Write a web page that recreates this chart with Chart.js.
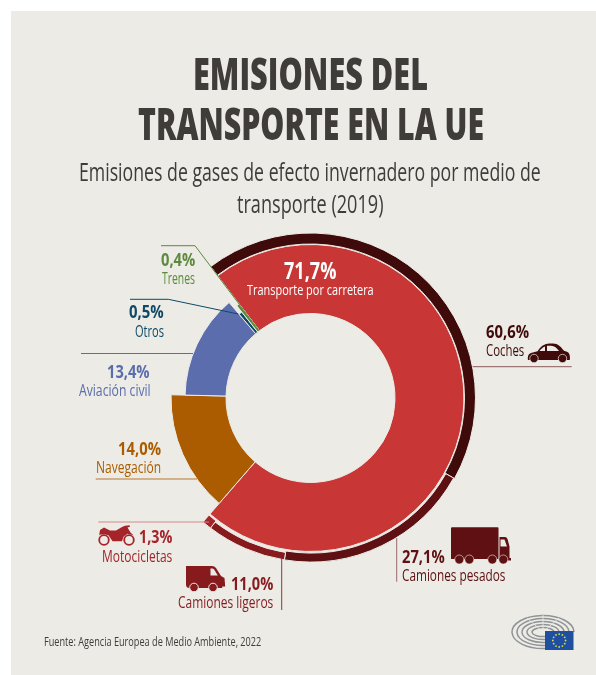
<!DOCTYPE html>
<html lang="es"><head><meta charset="utf-8">
<script src="https://cdn.jsdelivr.net/npm/chart.js@4"></script>
<style>
html,body{margin:0;padding:0;background:#fff;width:596px;height:675px;overflow:hidden}
#panel{position:absolute;left:11px;top:11px;width:585px;height:664px;background:#ecebe6}
#c{position:absolute;left:0;top:0}
#art{position:absolute;left:0;top:0}
.t{position:absolute;white-space:nowrap;font-family:"Open Sans","Noto Sans",sans-serif;line-height:1;transform-origin:0 0}
</style></head><body>
<div id="panel"></div>
<canvas id="c" width="596" height="675" style="width:596px;height:675px"></canvas>
<svg id="art" width="596" height="675" viewBox="0 0 596 675" fill="none">
  <!-- leader lines -->
  <polyline points="161,245.7 195,245.7 259,330.5" stroke="#5b8a3c" stroke-width="1"/>
  <polyline points="130,299.3 168.3,299.3 238.3,314" stroke="#0e4a66" stroke-width="1"/>
  <line x1="81" y1="353.5" x2="193" y2="353.5" stroke="#5b6dac" stroke-width="1"/>
  <line x1="95.7" y1="479" x2="197" y2="479" stroke="#b9772f" stroke-width="1"/>
  <line x1="98.3" y1="522" x2="209" y2="522" stroke="#d58787" stroke-width="1.2"/>
  <line x1="281.7" y1="558" x2="281.7" y2="610" stroke="#8a3a3e" stroke-width="1"/>
  <line x1="396.7" y1="538" x2="396.7" y2="581.7" stroke="#9a6a6a" stroke-width="1"/>
  <line x1="472.7" y1="366.7" x2="571.7" y2="366.7" stroke="#8a5a5a" stroke-width="1"/>
  <!-- car -->
  <path fill="#3f0a0a" d="M528 360c-.6-3 .2-6 3-7l6.500-1.800c3-4 6-7.700 12-7.700h3.500c5 0 8 3.500 11 7.300l3 .9c2.500.8 3.300 4.300 2.800 8.300z"/>
  <circle cx="534" cy="358.500" r="4.200" fill="#3f0a0a" stroke="#ecebe6" stroke-width=".7"/><circle cx="562.500" cy="358.500" r="4.200" fill="#3f0a0a" stroke="#ecebe6" stroke-width=".7"/>
  <path fill="#ecebe6" d="M539.500 351c1.500-2 3-3.500 5.500-4.500v4.500zM547 345.700h4c3.500 0 6 2.300 8 5.300h-12z"/>
  <!-- heavy truck -->
  <path fill="#5e1012" d="M452 527.300h45.500q1 0 1 1v30.700h-47.500v-30.700q0-1 1-1zM499.500 537h5.500q1.700 0 2.500 2l2 7.500v11.500h1.500v2.500h-11.500z"/>
  <path fill="#ecebe6" d="M500.500 539.500h4l2.500 7h-6.500z"/>
  <g fill="#5e1012" stroke="#ecebe6" stroke-width=".6"><circle cx="459.300" cy="559.500" r="4.500"/><circle cx="469.300" cy="559.500" r="4.500"/><circle cx="492.300" cy="559.500" r="4.500"/><circle cx="503.300" cy="559.500" r="4.500"/></g>
  <!-- van -->
  <path fill="#861a1d" d="M186 566h26q2.500 0 4 2l5 8 3.500 2 .7 8.500h-3v1.500h-32.500q-3.700 0-3.700-3.500v-17q0-1.500 0-1.500z"/>
  <path fill="#ecebe6" d="M210.500 568.500h1.500q1.500 0 2.300 1.300l3.500 5.700h-7.300z"/>
  <g fill="#861a1d" stroke="#ecebe6" stroke-width="1"><circle cx="194" cy="587.500" r="4.300"/><circle cx="213" cy="587.500" r="4.300"/></g>
  <!-- motorcycle -->
  <g stroke="#a5242a" stroke-width="1.800"><circle cx="104" cy="540" r="4.800"/><circle cx="129" cy="540" r="4.800"/></g>
  <path fill="#a5242a" d="M99 536l1-6 4-2.500 6 3h6l6-3.500 3-1.200 4.500-.6.500 1.500-2.500.8 3 5 3 2.800-6-1.500-4 3-1.500 4.500h-9.500l-4-6-4-1-5 .5z"/>
  <!-- parliament logo -->
  <g stroke="#8f9396" stroke-width="1.500" fill="none">
    <path d="M545 648.500A31 16.500 0 1 1 574 632"/>
    <path d="M545 645.500A26 13.500 0 1 1 569 632"/>
    <path d="M545 642.500A21 10.500 0 1 1 564 632"/>
    <path d="M545 639.500A16 7.500 0 1 1 559 632"/>
    <path d="M545 636.500A11 4.500 0 1 1 554 632"/>
  </g>
  <path d="M543 615v17M527 618l16 14M559 618l-16 14" stroke="#ecebe6" stroke-width=".8"/>
  <rect x="545" y="631" width="28.500" height="19" fill="#1f4f9f"/>
  <g id="stars" fill="#e8d84a"></g>
</svg>
<script>
// ---- data ----
const categories = ['Transporte por carretera', 'Navegación', 'Aviación civil', 'Otros', 'Trenes'];
const shares = [71.7, 14.0, 13.4, 0.5, 0.4];
const roadCategories = ['Coches', 'Camiones pesados', 'Camiones ligeros', 'Motocicletas'];
const roadShares = [60.6, 27.1, 11.0, 1.3];
// ---- styling ----
const shareColors = ['#c83735', '#ac5c00', '#5b6dac', '#0e4a66', '#5b8a3c'];
const roadColors = ['#3f0a0a', '#5e1012', '#861a1d', '#a5242a'];
const bg = '#ecebe6';
const shareRadii = [[84.5, 153.5], [84.5, 139.5], [84.5, 125.5], [84.5, 110], [84.5, 118]];
const roadRadii = [[154, 165], [155, 164], [156.5, 164], [155, 164]];
const cx = 310.5, cy = 398, outerR = 165;

const ringRadii = {
  id: 'ringRadii',
  afterDatasetsUpdate(chart) {
    [roadRadii, shareRadii].forEach((radii, d) => {
      chart.getDatasetMeta(d).data.forEach((arc, i) => {
        arc.innerRadius = radii[i][0];
        arc.outerRadius = radii[i][1];
      });
    });
  }
};
new Chart(document.getElementById('c'), {
  type: 'doughnut',
  plugins: [ringRadii],
  data: {
    labels: categories,
    datasets: [
      { label: 'Carretera', data: roadShares, backgroundColor: roadColors, borderColor: bg, borderWidth: 1,
        rotation: -37.2, circumference: 3.6 * shares[0] },
      { label: 'Total', data: shares, backgroundColor: shareColors, borderColor: bg, borderWidth: 1,
        rotation: -37.2, circumference: 360 }
    ]
  },
  options: {
    responsive: false, animation: false, cutout: '50%',
    layout: { padding: { left: cx - outerR, right: 596 - cx - outerR, top: cy - outerR, bottom: 675 - cy - outerR } },
    plugins: { legend: { display: false }, tooltip: { enabled: false }, title: { display: false } }
  }
});

// ---- text ----
function put(text, left, right, base, size, weight, color) {
  const el = document.createElement('div');
  el.className = 't';
  el.textContent = text;
  el.style.fontSize = size + 'px';
  el.style.fontWeight = weight;
  el.style.color = color;
  el.style.left = left + 'px';
  document.body.appendChild(el);
  const w = el.getBoundingClientRect().width;
  const ctx = document.createElement('canvas').getContext('2d');
  ctx.font = `${weight} ${size}px "Open Sans"`;
  const m = ctx.measureText(text);
  const h = el.getBoundingClientRect().height;
  const asc = (h + m.fontBoundingBoxAscent - m.fontBoundingBoxDescent) / 2;
  el.style.top = (base - asc) + 'px';
  el.style.transform = `scaleX(${(right - left) / w})`;
}
const ink = '#3f3c3a';
put('EMISIONES DEL', 192.8, 427.8, 89.5, 45, 800, ink);
put('TRANSPORTE EN LA UE', 137.6, 483.7, 139.5, 45, 800, ink);
put('Emisiones de gases de efecto invernadero por medio de', 79, 540.7, 181.7, 25, 400, ink);
put('transporte (2019)', 236.5, 383, 213, 25, 400, ink);
put('71,7%', 284.3, 336.7, 279.3, 24, 700, '#fff');
put('Transporte por carretera', 247.3, 374, 295.7, 15, 400, '#fff');
put('0,4%', 160.7, 195, 266.7, 17.5, 700, '#5b8a3c');
put('Trenes', 162, 195, 284.3, 16, 400, '#5b8a3c');
put('0,5%', 129.3, 164, 318.7, 17.5, 700, '#0e4a66');
put('Otros', 135, 164, 337.3, 16, 400, '#0e4a66');
put('13,4%', 106.7, 149.3, 378.3, 17.5, 700, '#5b6dac');
put('Aviación civil', 79.3, 151, 396, 16, 400, '#5b6dac');
put('14,0%', 117.7, 160.7, 455.3, 17.5, 700, '#ac5c00');
put('Navegación', 95.7, 160.7, 472.7, 16, 400, '#ac5c00');
put('1,3%', 139, 172.3, 544, 17.5, 700, '#a5242a');
put('Motocicletas', 102, 172.3, 561.7, 16, 400, '#a5242a');
put('11,0%', 230.7, 273, 590.7, 17.5, 700, '#861a1d');
put('Camiones ligeros', 178, 273.3, 607.7, 16, 400, '#861a1d');
put('27,1%', 402.3, 445, 563.3, 17.5, 700, '#5e1012');
put('Camiones pesados', 402.3, 505.7, 580.7, 16, 400, '#5e1012');
put('60,6%', 485.7, 528.7, 338.3, 17.5, 700, '#3f0a0a');
put('Coches', 485.7, 524, 355.7, 16, 400, '#3f0a0a');
put('Fuente: Agencia Europea de Medio Ambiente, 2022', 44, 261.3, 646.7, 12.5, 400, ink);

// flag stars
const stars = document.getElementById('stars');
for (let i = 0; i < 12; i++) {
  const a = i * Math.PI / 6;
  const s = document.createElementNS('http://www.w3.org/2000/svg', 'circle');
  s.setAttribute('cx', 559.2 + 6.4 * Math.sin(a));
  s.setAttribute('cy', 640.5 - 6.4 * Math.cos(a));
  s.setAttribute('r', 0.9);
  stars.appendChild(s);
}
</script>
</body></html>
